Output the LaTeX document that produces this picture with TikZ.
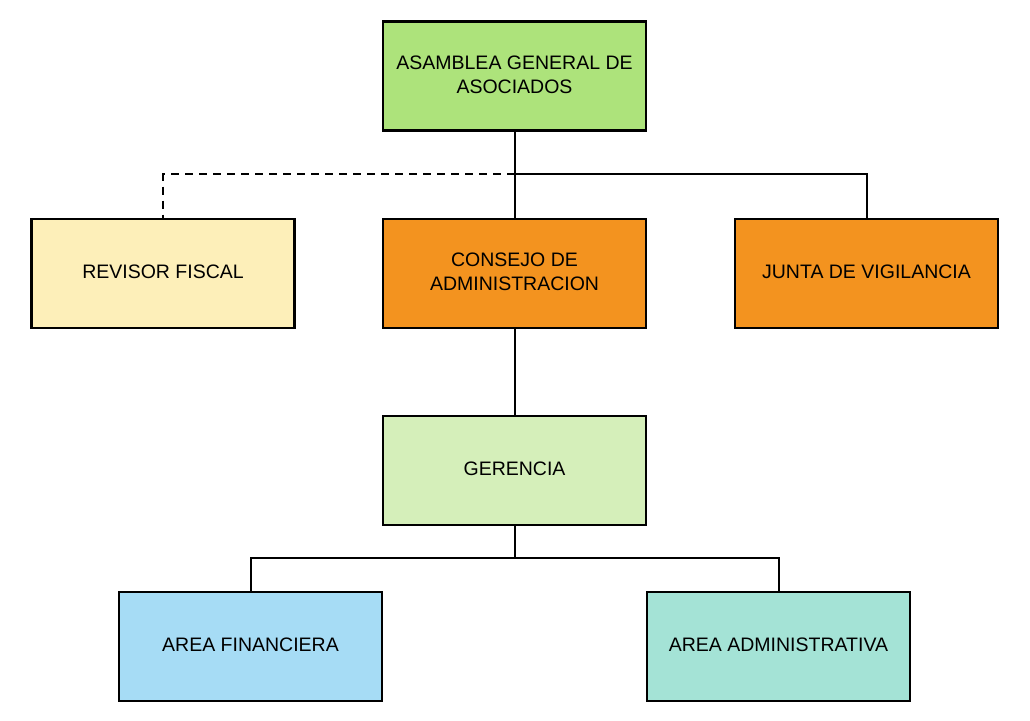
\documentclass[tikz,border=0pt]{standalone}
\usepackage{fontspec}
\setmainfont{Liberation Sans}
\definecolor{cAsam}{HTML}{ADE37B}
\definecolor{cRev}{HTML}{FDEFB9}
\definecolor{cOrg}{HTML}{F3931F}
\definecolor{cGer}{HTML}{D5EFBA}
\definecolor{cFin}{HTML}{A6DCF5}
\definecolor{cAdm}{HTML}{A4E3D6}
\begin{document}
\begin{tikzpicture}[x=1pt,y=-1pt,
  box/.style={draw=black,line width=2.5pt,minimum width=263pt,minimum height=109pt,
    align=center,font=\fontsize{19.5}{24}\selectfont,inner sep=0pt,text=black,
    text depth=3pt},
  link/.style={draw=black,line width=2pt},
  dlink/.style={draw=black,line width=2pt,dash pattern=on 8pt off 6pt}]
\useasboundingbox[fill=white] (0,0) rectangle (1030,720);
\node[box,fill=cAsam] (asam) at (514.5,76) {ASAMBLEA GENERAL DE\\ASOCIADOS};
\node[box,fill=cRev] (rev) at (163,273.5) {REVISOR FISCAL};
\node[box,fill=cOrg] (cons) at (514.5,273.5) {CONSEJO DE\\ADMINISTRACION};
\node[box,fill=cOrg] (junta) at (866.5,273.5) {JUNTA DE VIGILANCIA};
\node[box,fill=cGer] (ger) at (514.5,470.5) {GERENCIA};
\node[box,fill=cFin] (fin) at (250.5,646.5) {AREA FINANCIERA};
\node[box,fill=cAdm] (adm) at (778.5,646.5) {AREA ADMINISTRATIVA};
\coordinate (j1) at (514.5,174);
\coordinate (j2) at (514.5,558);
\draw[link] (asam.south) -- (cons.north);
\draw[link] (j1) -| (junta.north);
\draw[dlink] (j1) -| (rev.north);
\draw[link] (cons.south) -- (ger.north);
\draw[link] (ger.south) -- (j2);
\draw[link] (j2) -| (fin.north);
\draw[link] (j2) -| (adm.north);
\end{tikzpicture}
\end{document}
